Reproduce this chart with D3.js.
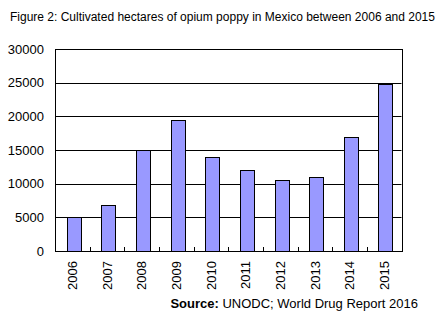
<!DOCTYPE html>
<html>
<head>
<meta charset="utf-8">
<script src="https://cdn.jsdelivr.net/npm/d3@7"></script>
<style>
  body { margin: 0; background: #fff; }
  svg { display: block; font-family: "Liberation Sans", Arial, sans-serif; }
</style>
</head>
<body>
<svg width="443" height="325"></svg>
<script>
// hectares under opium poppy, Mexico
const years = ['2006', '2007', '2008', '2009', '2010', '2011', '2012', '2013', '2014', '2015'];
const hectares = [5000, 6900, 15000, 19500, 14000, 12000, 10500, 11000, 17000, 24800];
const yTicks = [0, 5000, 10000, 15000, 20000, 25000, 30000];

const svg = d3.select('svg');
const margin = { top: 49, right: 41.5, bottom: 74, left: 55 };
const width = 443 - margin.left - margin.right;
const height = 325 - margin.top - margin.bottom;

svg.append('text')
    .attr('x', 10)
    .attr('y', 21)
    .attr('font-size', 12)
    .text('Figure 2: Cultivated hectares of opium poppy in Mexico between 2006 and 2015');

const g = svg.append('g').attr('transform', 'translate(' + margin.left + ',' + margin.top + ')');

const x = d3.scaleBand().domain(years).range([0, width]).paddingInner(0.6).paddingOuter(0.3).align(0.56);
const xEdge = d3.scaleLinear().domain([0, years.length]).range([0, width]);
const y = d3.scaleLinear().domain([0, 30000]).range([height, 0]);

// gridlines
g.selectAll('.grid')
    .data(yTicks)
    .enter().append('line')
    .attr('x1', 0)
    .attr('x2', width)
    .attr('y1', function(d) { return Math.round(y(d)) + 0.5; })
    .attr('y2', function(d) { return Math.round(y(d)) + 0.5; })
    .attr('stroke', '#000')
    .attr('stroke-width', 1);

g.selectAll('.bar')
    .data(hectares)
    .enter().append('rect')
    .attr('x', function(d, i) { return Math.round(x(years[i])) + 0.5; })
    .attr('y', function(d) { return Math.round(y(d)) + 0.5; })
    .attr('width', Math.round(x.bandwidth()))
    .attr('height', function(d) { return Math.round(height - y(d)); })
    .attr('fill', '#9999ff')
    .attr('stroke', '#000')
    .attr('stroke-width', 1);

// frame
g.append('rect')
    .attr('x', 0.5)
    .attr('y', Math.round(y(30000)) + 0.5)
    .attr('width', Math.round(width))
    .attr('height', Math.round(height))
    .attr('fill', 'none')
    .attr('stroke', '#000');

// category separators, pointing up from the baseline
g.selectAll('.sep')
    .data(d3.range(1, years.length))
    .enter().append('line')
    .attr('x1', function(d) { return Math.round(xEdge(d)) + 0.5; })
    .attr('x2', function(d) { return Math.round(xEdge(d)) + 0.5; })
    .attr('y1', Math.round(height) + 0.5)
    .attr('y2', Math.round(height) - 4)
    .attr('stroke', '#000');

g.selectAll('.ylab')
    .data(yTicks)
    .enter().append('text')
    .attr('x', -11)
    .attr('y', function(d) { return y(d); })
    .attr('dy', '0.35em')
    .attr('text-anchor', 'end')
    .attr('font-size', 13)
    .text(function(d) { return d; });

g.selectAll('.xlab')
    .data(years)
    .enter().append('text')
    .attr('transform', function(d) {
        return 'translate(' + (x(d) + x.bandwidth() / 2 - 1) + ',' + (height + 10) + ') rotate(-90)';
    })
    .attr('dy', '0.35em')
    .attr('text-anchor', 'end')
    .attr('font-size', 13)
    .text(function(d) { return d; });

const src = svg.append('text')
    .attr('x', 418)
    .attr('y', 308)
    .attr('text-anchor', 'end')
    .attr('font-size', 13);
src.append('tspan').attr('font-weight', 'bold').text('Source:');
src.append('tspan').text(' UNODC; World Drug Report 2016');
</script>
</body>
</html>
